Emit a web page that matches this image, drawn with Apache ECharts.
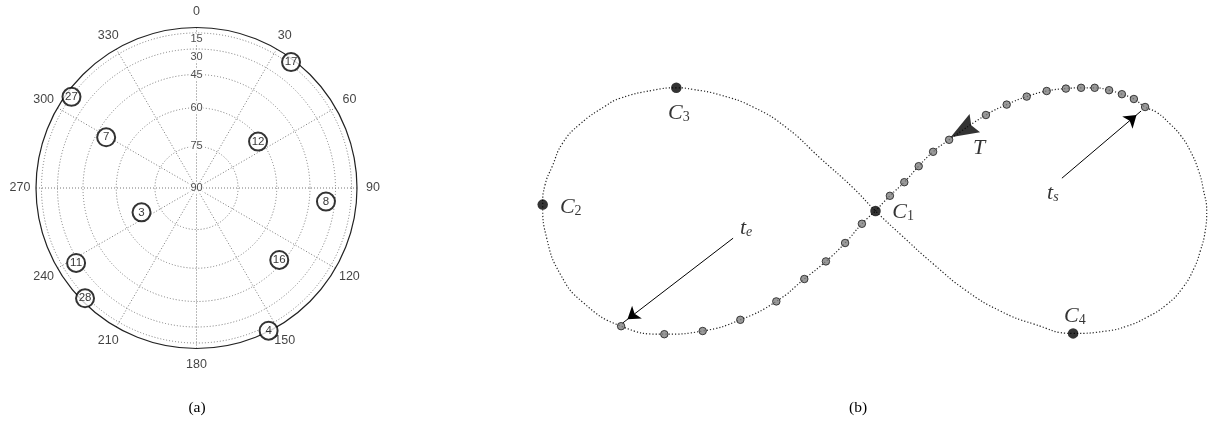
<!DOCTYPE html>
<html>
<head>
<meta charset="UTF-8">
<title>Skyplot and figure-eight track</title>
<script src="https://cdn.jsdelivr.net/npm/echarts@6/dist/echarts.min.js"></script>
<style>
  html, body { margin: 0; padding: 0; background: #fff; }
  #chart { width: 1209px; height: 424px; }
</style>
</head>
<body>
<div id="chart"></div>
<script>
// ---- (a) skyplot ----
var azimuthTicks = [0, 30, 60, 90, 120, 150, 180, 210, 240, 270, 300, 330];
var elevationTicks = [15, 30, 45, 60, 75, 90];
var satPrn = ['17', '27', '7', '12', '8', '3', '11', '16', '28', '4'];
var satAzimuth = [36.9, 306.1, 299.3, 53.0, 96.0, 246.1, 238.1, 131.0, 225.3, 153.2];
var satElevation = [11.2, 15.4, 49.8, 61.3, 35.8, 68.0, 27.9, 46.9, 12.3, 5.0];

// ---- (b) figure-eight track ----
var trackX = [0, 0.18, 0.36, 0.54, 0.72, 0.92, 1.38, 1.64, 1.89, 2.14, 2.38, 2.57, 2.74, 2.92, 3.08, 3.23, 3.37,
  3.52, 3.68, 3.81, 3.93, 4.04, 4.10, 4.14, 4.12, 4.06, 3.98, 3.84, 3.64, 3.39, 3.14, 2.89,
  2.47, 1.97, 1.56, 1.14, 0.72, 0.31, 0,
  -0.28, -0.69, -1.11, -1.53, -1.94, -2.28, -2.49, -2.78, -3.19, -3.38, -3.69, -3.91, -4.04, -4.13, -4.16,
  -4.11, -3.94, -3.66, -3.18, -2.64, -2.16, -1.69, -1.24, -0.89, -0.62, -0.38, -0.17, 0];
var trackY = [0, 0.19, 0.36, 0.56, 0.74, 0.89, 1.20, 1.33, 1.43, 1.50, 1.53, 1.54, 1.54, 1.51, 1.46, 1.40, 1.30,
  1.23, 1.09, 0.95, 0.76, 0.50, 0.26, 0, -0.26, -0.50, -0.72, -0.96, -1.17, -1.33, -1.44, -1.50,
  -1.53, -1.41, -1.25, -1.00, -0.66, -0.29, 0,
  0.29, 0.66, 1.04, 1.30, 1.45, 1.52, 1.54, 1.51, 1.41, 1.31, 1.09, 0.85, 0.56, 0.33, 0.08,
  -0.34, -0.79, -1.14, -1.44, -1.54, -1.50, -1.36, -1.13, -0.85, -0.63, -0.40, -0.16, 0];
var epochX = [3.37, 3.23, 3.08, 2.92, 2.74, 2.57, 2.38, 2.14, 1.89, 1.64, 1.38, 0.92, 0.72, 0.54, 0.36, 0.18,
  -0.17, -0.38, -0.62, -0.89, -1.24, -1.69, -2.16, -2.64, -3.18];
var epochY = [1.30, 1.40, 1.46, 1.51, 1.54, 1.54, 1.53, 1.50, 1.43, 1.33, 1.20, 0.89, 0.74, 0.56, 0.36, 0.19,
  -0.16, -0.40, -0.63, -0.85, -1.13, -1.36, -1.50, -1.54, -1.44];
var cornerIndex = ['1', '2', '3', '4'];
var cornerX = [0, -4.16, -2.49, 2.47];
var cornerY = [0, 0.08, 1.54, -1.53];
var directionPoint = [1.09, 1.01];
var startArrow = [[2.33, 0.41], [3.32, 1.25]];
var endArrow = [[-1.78, -0.34], [-3.16, -1.40]];

function zenith(el) {
  return Math.cos(el * Math.PI / 180);
}

var serif = 'Liberation Serif';
var sans = 'Liberation Sans';
var mathRich = {
  m: { fontFamily: serif, fontStyle: 'italic', fontSize: 22, lineHeight: 22, verticalAlign: 'top', padding: [0, 0, 1, 0], color: '#000' },
  s: { fontFamily: serif, fontSize: 14, lineHeight: 14, verticalAlign: 'bottom', color: '#000' },
  si: { fontFamily: serif, fontStyle: 'italic', fontSize: 14, lineHeight: 14, verticalAlign: 'bottom', color: '#000' }
};
var gridDot = { color: '#777', width: 1, type: [1, 2] };

// label nudges for the crowded outer elevation labels
var elevNudge = { 15: 6, 30: 7.5 };
var cornerPlace = [
  { position: 'right', distance: 11.5, offset: [0, 1] },
  { position: 'right', distance: 12, offset: [0, 3] },
  { position: 'bottom', distance: 9, offset: [2.5, 0] },
  { position: 'top', distance: 1, offset: [1.7, 0] }
];

var chart = echarts.init(document.getElementById('chart'));

var option = {
  animation: false,
  title: [
    { text: '(a)', left: 197, top: 400, textAlign: 'center', padding: 0,
      textStyle: { fontFamily: serif, fontSize: 15.5, fontWeight: 'normal', color: '#000' } },
    { text: '(b)', left: 858, top: 400, textAlign: 'center', padding: 0,
      textStyle: { fontFamily: serif, fontSize: 15.5, fontWeight: 'normal', color: '#000' } }
  ],
  polar: { center: [196.5, 188], radius: 160.5 },
  angleAxis: {
    type: 'value', min: 0, max: 360, interval: 30, startAngle: 90, clockwise: true,
    axisLine: { lineStyle: { color: '#222', width: 1.2 } },
    axisTick: { show: false },
    axisLabel: { show: false },
    splitLine: { show: true, lineStyle: gridDot }
  },
  radiusAxis: {
    type: 'value', min: 0, max: 1,
    axisLine: { show: false },
    axisTick: { show: false, customValues: elevationTicks.map(zenith) },
    axisLabel: { show: false },
    splitLine: { show: true, lineStyle: gridDot }
  },
  grid: { left: 535.5, top: 71, width: 672, height: 280 },
  xAxis: { type: 'value', min: -4.25, max: 4.15, show: false },
  yAxis: { type: 'value', min: -1.75, max: 1.75, show: false },
  series: [
    {
      name: 'elevation labels', type: 'scatter', coordinateSystem: 'polar', clip: false, silent: true, z: 3,
      symbolSize: 1, itemStyle: { color: 'rgba(0,0,0,0)' },
      data: elevationTicks.map(function (e) {
        return { value: [zenith(e), 0], name: String(e), label: { offset: [0, elevNudge[e] || 0] } };
      }),
      label: {
        show: true, position: 'inside', formatter: '{b}', color: '#222', fontFamily: sans, fontSize: 11,
        backgroundColor: '#fff', padding: [0, 1]
      }
    },
    {
      name: 'azimuth labels', type: 'scatter', coordinateSystem: 'polar', clip: false, silent: true,
      symbolSize: 1, itemStyle: { color: 'rgba(0,0,0,0)' },
      data: azimuthTicks.map(function (a) { return { value: [1.1, a], name: String(a) }; }),
      label: { show: true, position: 'inside', formatter: '{b}', color: '#111', fontFamily: sans, fontSize: 12.5 }
    },
    {
      name: 'satellites', type: 'scatter', coordinateSystem: 'polar', clip: false, silent: true, z: 5,
      symbol: 'circle', symbolSize: 18,
      itemStyle: { color: '#fff', borderColor: '#000', borderWidth: 2 },
      data: satPrn.map(function (p, i) {
        return { value: [zenith(satElevation[i]), satAzimuth[i]], name: p };
      }),
      label: { show: true, position: 'inside', formatter: '{b}', color: '#000', fontFamily: sans, fontSize: 11.5 }
    },
    {
      name: 'track', type: 'line', xAxisIndex: 0, yAxisIndex: 0, clip: false, silent: true,
      smooth: 0.5, showSymbol: false, symbol: 'none',
      lineStyle: { color: '#222', width: 1.2, type: [1.2, 2] },
      data: trackX.map(function (x, i) { return [x, trackY[i]]; }),
      markLine: {
        silent: true, animation: false,
        symbol: ['none', 'arrow'], symbolSize: 12, symbolOffset: [0, [0, '50%']],
        lineStyle: { color: '#000', width: 1, type: 'solid' },
        label: { show: false },
        data: [
          [{ coord: startArrow[0] }, { coord: startArrow[1] }],
          [{ coord: endArrow[0] }, { coord: endArrow[1] }]
        ]
      }
    },
    {
      name: 'epochs', type: 'scatter', clip: false, silent: true, z: 4,
      symbolSize: 7.5,
      itemStyle: { color: '#7f7f7f', borderColor: '#1a1a1a', borderWidth: 1 },
      data: epochX.map(function (x, i) { return [x, epochY[i]]; })
    },
    {
      name: 'corners', type: 'scatter', clip: false, silent: true, z: 5,
      symbolSize: 10.5, itemStyle: { color: '#000' },
      data: cornerIndex.map(function (c, i) {
        var p = cornerPlace[i];
        return {
          value: [cornerX[i], cornerY[i]], name: c,
          label: { position: p.position, distance: p.distance, offset: p.offset }
        };
      }),
      label: {
        show: true,
        formatter: function (d) { return '{m|C}{s|' + d.name + '}'; },
        rich: mathRich
      }
    },
    {
      name: 'direction', type: 'scatter', clip: false, silent: true, z: 6,
      symbol: 'path://M10,0 L20,27 L10,23 L0,27 Z', symbolSize: [21, 28], symbolRotate: 120,
      itemStyle: { color: '#000' },
      data: [{ value: directionPoint, name: 'T' }],
      label: { show: true, position: 'inside', offset: [16.5, 18], formatter: '{m|T}', rich: mathRich }
    },
    {
      name: 'arrow labels', type: 'scatter', clip: false, silent: true,
      symbolSize: 1, itemStyle: { color: 'rgba(0,0,0,0)' },
      data: [
        { value: startArrow[0], name: 's', label: { offset: [-9, 15] } },
        { value: endArrow[0], name: 'e', label: { offset: [13, -10] } }
      ],
      label: {
        show: true, position: 'inside',
        formatter: function (d) { return '{m|t}{si|' + d.name + '}'; },
        rich: mathRich
      }
    }
  ]
};

chart.setOption(option);
</script>
</body>
</html>
